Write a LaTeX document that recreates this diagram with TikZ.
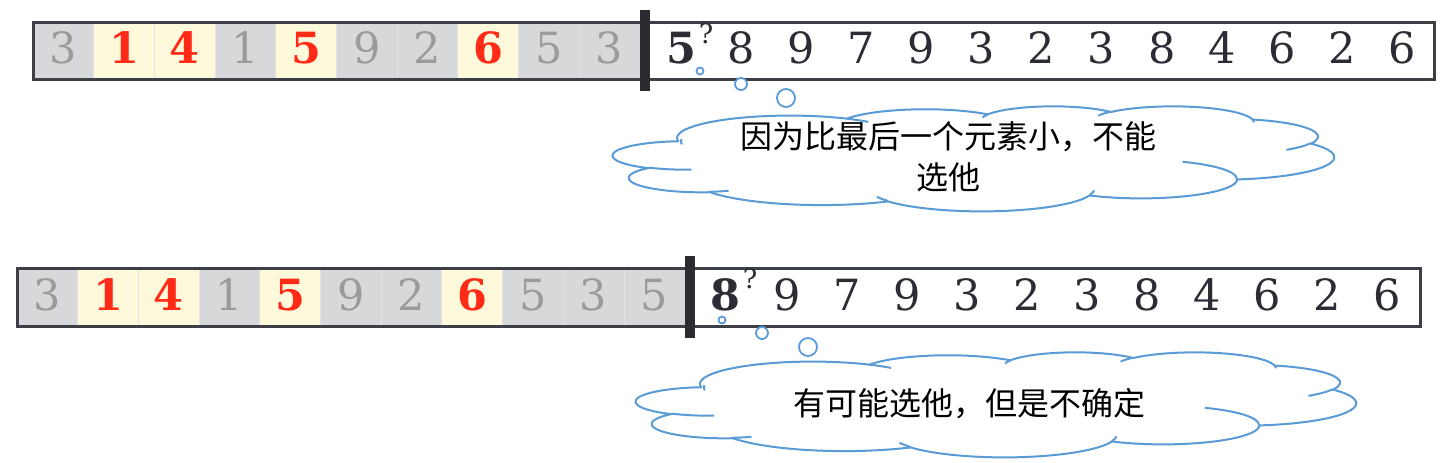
\documentclass[tikz,border=0pt]{standalone}
\usepackage{fontspec}
\setmainfont{DejaVu Serif}
\newfontfamily\cjk{Noto Sans CJK SC}
\definecolor{cellgray}{HTML}{D7D8DA}
\definecolor{cellyel}{HTML}{FFF9DC}
\definecolor{dgray}{HTML}{9B9B9B}
\definecolor{dred}{HTML}{FF2B17}
\definecolor{dblack}{HTML}{2C2C34}
\definecolor{boxline}{HTML}{3C3F45}
\definecolor{barcol}{HTML}{2A2C32}
\definecolor{cblue}{HTML}{5B9BD5}
\definecolor{sepline}{HTML}{E4E4E6}
\newcommand\digfont{\fontsize{21.5}{26}\selectfont}
\newcommand\digbold{\fontsize{21.5}{26}\selectfont\bfseries}
\newcommand\qfont{\fontsize{13.5}{16}\selectfont}
\newcommand\cjkfont{\cjk\fontsize{16}{20.5}\selectfont}
% Office-style cloud: parametric angles from DrawingML visual angles
\newcommand\ArcAng[5]{%
  \pgfmathsetmacro\tmpA{atan2((#2)*sin(#4),(#3)*cos(#4))}%
  \pgfmathsetmacro\tmpB{atan2((#2)*sin((#4)+(#5)),(#3)*cos((#4)+(#5)))}%
  \pgfmathsetmacro\tmpD{mod(\tmpB-(\tmpA)+720,360)}%
  \expandafter\xdef\csname arcS#1\endcsname{\tmpA}%
  \expandafter\xdef\csname arcD#1\endcsname{\tmpD}%
  \expandafter\xdef\csname arcX#1\endcsname{#2}%
  \expandafter\xdef\csname arcY#1\endcsname{#3}%
}
\newcommand\CA[1]{arc[x radius={\csname arcX#1\endcsname/100*\cw}, y radius={\csname arcY#1\endcsname/100*\ch}, start angle={-(\csname arcS#1\endcsname)}, delta angle={-(\csname arcD#1\endcsname)}]}
\newcommand\CP[2]{({\cx+(#1)*\cw},{-(\cy+(#2)*\ch)})}
\newcommand\OCloud[4]{%
  \pgfmathsetmacro\cx{#1}%
  \pgfmathsetmacro\cy{#2}%
  \pgfmathsetmacro\cw{#3/432}%
  \pgfmathsetmacro\ch{#4/432}%
  \draw[cloudline, fill=white] \CP{39.00}{143.70} \CA{a} \CA{b} \CA{c} \CA{d} \CA{e} \CA{f} \CA{g} \CA{h} \CA{i} \CA{j} \CA{k} -- cycle;
  \draw[cloudline] \CP{46.93}{261.77} \CA{ia}
    \CP{69.28}{348.99} \CA{ib}
    \CP{164.78}{390.90} \CA{ic}
    \CP{288.27}{347.51} \CA{id}
    \CP{341.29}{229.54} \CA{ie}
    \CP{417.98}{153.54} \CA{if}
    \CP{383.24}{54.26} \CA{ig}
    \CP{290.78}{39.52} \CA{ih}
    \CP{221.41}{47.20} \CA{ii}
    \CP{140.00}{51.92} \CA{ij}
    \CP{41.27}{157.89} \CA{ik};
}
\ArcAng{a}{6753}{9190}{-190.4875}{123.7805}
\ArcAng{b}{5333}{7267}{-144.1024}{89.9452}
\ArcAng{c}{4365}{5945}{-145.8079}{99.7230}
\ArcAng{d}{4857}{6595}{-130.9861}{117.2417}
\ArcAng{e}{5333}{7273}{-78.7089}{109.0269}
\ArcAng{f}{6775}{9220}{-46.2673}{130.2690}
\ArcAng{g}{5785}{7867}{0.6250}{114.0333}
\ArcAng{h}{6752}{9215}{22.4516}{115.1726}
\ArcAng{i}{7720}{10543}{66.2426}{75.7110}
\ArcAng{j}{4360}{5918}{-274.9421}{146.7356}
\ArcAng{k}{4345}{5945}{-246.8285}{152.5189}
\ArcAng{ia}{4345}{5945}{86.7420}{26.4295}
\ArcAng{ib}{4360}{5918}{73.6105}{11.4475}
\ArcAng{ic}{6752}{9215}{137.6242}{14.0811}
\ArcAng{id}{6752}{9215}{6.4533}{15.9984}
\ArcAng{ie}{5785}{7867}{-70.2924}{70.9174}
\ArcAng{if}{5333}{7273}{30.3180}{27.7515}
\ArcAng{ig}{4857}{6595}{-13.7443}{14.8589}
\ArcAng{ih}{4857}{6595}{-149.1815}{18.1954}
\ArcAng{ii}{4365}{5945}{-163.4943}{17.6864}
\ArcAng{ij}{6753}{9190}{-66.7070}{12.3194}
\ArcAng{ik}{6753}{9190}{-190.4875}{18.3213}
\begin{document}
\begin{tikzpicture}[x=0.5pt,y=0.5pt,
  cellg/.style={fill=cellgray}, celly/.style={fill=cellyel},
  digg/.style={text=dgray, font=\digfont, inner sep=0pt},
  digy/.style={text=dred, font=\digbold, inner sep=0pt},
  digk/.style={text=dblack, font=\digfont, inner sep=0pt},
  digb/.style={text=dblack, font=\digbold, inner sep=0pt},
  qmark/.style={text=dblack, font=\qfont, inner sep=0pt},
  boxborder/.style={draw=boxline, line width=1.5pt},
  sepbar/.style={fill=barcol},
  cellsep/.style={draw=sepline, line width=0.5pt},
  cloudline/.style={draw=cblue, line width=1pt},
  bubble/.style={circle, draw=cblue, line width=0.9pt, fill=white, inner sep=0pt},
  ctext/.style={font=\cjkfont, align=center, inner sep=0pt, text=black}]
\useasboundingbox (0,0) rectangle (1452,-462);
\fill[white] (0,0) rectangle (1452,-462);
% ---------- top row ----------
\foreach \d/\k [count=\i from 0] in {3/g,1/y,4/y,1/g,5/y,9/g,2/g,6/y,5/g,3/g}
  \fill[cell\k] ({33+60.7*\i},-22) rectangle ({33+60.7*(\i+1)},-79);
\foreach \i in {1,...,9}
  \draw[cellsep] ({33+60.7*\i},-23) -- ({33+60.7*\i},-78);
\draw[boxborder] (33,-22) rectangle (1434,-79);
\fill[sepbar] (640,-10) rectangle (650,-91);
\foreach \d/\k [count=\i from 0] in {3/g,1/y,4/y,1/g,5/y,9/g,2/g,6/y,5/g,3/g}
  \node[dig\k, anchor=base] (ta\i) at ({33+60.7*(\i+0.5)},-63) {\d};
\node[digb, anchor=base] (tcur) at (681,-63) {5};
\node[qmark] (tq) at (706,-34) {?};
\foreach \d [count=\i from 0] in {8,9,7,9,3,2,3,8,4,6,2,6}
  \node[digk, anchor=base] (tb\i) at ({741+60.1*\i},-63) {\d};
% ---------- bottom row ----------
\foreach \d/\k [count=\i from 0] in {3/g,1/y,4/y,1/g,5/y,9/g,2/g,6/y,5/g,3/g,5/g}
  \fill[cell\k] ({17+60.7*\i},-268) rectangle ({17+60.7*(\i+1)},-326);
\foreach \i in {1,...,10}
  \draw[cellsep] ({17+60.7*\i},-269) -- ({17+60.7*\i},-325);
\draw[boxborder] (17,-268) rectangle (1420,-326);
\fill[sepbar] (685,-256) rectangle (695,-338);
\foreach \d/\k [count=\i from 0] in {3/g,1/y,4/y,1/g,5/y,9/g,2/g,6/y,5/g,3/g,5/g}
  \node[dig\k, anchor=base] (ba\i) at ({17+60.7*(\i+0.5)},-310) {\d};
\node[digb, anchor=base] (bcur) at (725,-310) {8};
\node[qmark] (bq) at (750,-279) {?};
\foreach \d [count=\i from 0] in {9,7,9,3,2,3,8,4,6,2,6}
  \node[digk, anchor=base] (bb\i) at ({787+60*\i},-310) {\d};
% ---------- thought bubbles ----------
\node[bubble, minimum size=3.5pt] (tb1) at (700,-71) {};
\node[bubble, minimum size=6pt] (tb2) at (741,-84) {};
\node[bubble, minimum size=9pt] (tb3) at (786,-98) {};
\node[bubble, minimum size=3.5pt] (bb1) at (722,-320) {};
\node[bubble, minimum size=6pt] (bb2) at (762,-333) {};
\node[bubble, minimum size=9pt] (bb3) at (808,-347) {};
\OCloud{613}{106}{721}{105}
\node[ctext] (ttext) at (948,-157) {因为比最后一个元素小，不能\\选他};
\OCloud{636}{352}{720}{105}
\node[ctext] (btext) at (969,-404) {有可能选他，但是不确定};
\end{tikzpicture}
\end{document}
